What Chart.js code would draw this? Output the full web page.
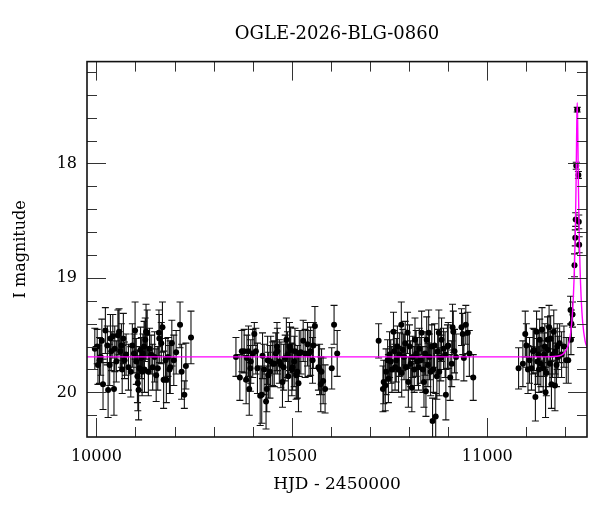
<!DOCTYPE html>
<html>
<head>
<meta charset="utf-8">
<title>OGLE-2026-BLG-0860</title>
<script src="https://cdn.jsdelivr.net/npm/chart.js@4.4.1/dist/chart.umd.min.js"></script>
<style>
  html, body { margin: 0; padding: 0; background: #fff; }
  #wrap { width: 600px; height: 512px; }
</style>
</head>
<body>
<div id="wrap"><canvas id="lc" width="600" height="512"></canvas></div>
<script>
// light curve values
var season1Hjd = [9996, 10002, 10004, 10008, 10011, 10014, 10017, 10023, 10028, 10030,
    10034, 10036, 10038, 10042, 10045, 10047, 10051, 10055, 10058, 10061,
    10064, 10066, 10069, 10072, 10076, 10082, 10088, 10092, 10096, 10099,
    10102, 10105, 10106, 10108, 10110, 10113, 10115, 10117, 10119, 10122,
    10123, 10125, 10127, 10130, 10133, 10136, 10140, 10144, 10149, 10153,
    10157, 10160, 10161, 10166, 10169, 10172, 10177, 10179, 10183, 10187,
    10189, 10193, 10198, 10204, 10214, 10218, 10225, 10229, 10242];
var season1Mag = [19.62, 19.60, 19.76, 19.72, 19.69, 19.55, 19.93, 19.46, 19.59, 19.98,
    19.76, 19.53, 19.64, 19.51, 19.97, 19.62, 19.73, 19.50, 19.47, 19.64,
    19.59, 19.80, 19.53, 19.72, 19.67, 19.78, 19.82, 19.59, 19.66, 19.46,
    19.73, 19.86, 19.92, 19.98, 19.79, 19.63, 19.70, 19.82, 19.66, 19.60,
    19.80, 19.54, 19.47, 19.48, 19.82, 19.62, 19.67, 19.78, 19.69, 19.85,
    19.79, 19.48, 19.53, 19.57, 19.43, 19.89, 19.72, 19.89, 19.69, 19.80,
    19.78, 19.57, 19.72, 19.65, 19.41, 19.82, 20.02, 19.77, 19.52];
var season1Err = [0.18, 0.15, 0.17, 0.20, 0.16, 0.19, 0.22, 0.20, 0.17, 0.24,
    0.18, 0.21, 0.17, 0.19, 0.23, 0.20, 0.18, 0.22, 0.20, 0.17,
    0.19, 0.21, 0.22, 0.16, 0.18, 0.20, 0.22, 0.19, 0.17, 0.25,
    0.20, 0.23, 0.24, 0.26, 0.19, 0.20, 0.18, 0.21, 0.17, 0.22,
    0.20, 0.19, 0.24, 0.20, 0.21, 0.18, 0.17, 0.20, 0.22, 0.23,
    0.19, 0.20, 0.21, 0.18, 0.22, 0.25, 0.19, 0.20, 0.17, 0.21,
    0.23, 0.20, 0.22, 0.19, 0.20, 0.24, 0.12, 0.20, 0.23];

var season2Hjd = [10357, 10367, 10372, 10378, 10383, 10385, 10389, 10391, 10394, 10395,
    10400, 10404, 10408, 10412, 10419, 10423, 10425, 10429, 10434, 10436,
    10438, 10440, 10444, 10446, 10451, 10455, 10459, 10462, 10463, 10468,
    10472, 10476, 10479, 10483, 10486, 10489, 10491, 10494, 10497, 10500,
    10502, 10506, 10508, 10511, 10514, 10517, 10519, 10523, 10529, 10534,
    10540, 10544, 10548, 10553, 10555, 10559, 10568, 10571, 10574, 10576,
    10580, 10585, 10602, 10608, 10616];
var season2Mag = [19.69, 19.87, 19.64, 19.64, 19.89, 19.70, 19.64, 19.97, 19.79, 19.73,
    19.66, 19.49, 19.64, 19.79, 20.03, 20.02, 19.68, 19.80, 20.08, 19.97,
    19.72, 19.85, 19.82, 19.73, 19.75, 19.75, 19.66, 19.60, 19.64, 19.73,
    19.76, 19.91, 19.78, 19.70, 19.54, 19.67, 19.86, 19.60, 19.63, 19.80,
    19.78, 19.73, 19.64, 19.85, 19.82, 19.92, 19.66, 19.65, 19.55, 19.66,
    19.58, 19.66, 19.64, 19.72, 19.59, 19.42, 19.78, 19.80, 19.93, 19.82,
    19.90, 19.97, 19.79, 19.41, 19.66];
var season2Err = [0.17, 0.20, 0.18, 0.19, 0.21, 0.20, 0.22, 0.23, 0.20, 0.19,
    0.21, 0.10, 0.20, 0.22, 0.26, 0.25, 0.20, 0.22, 0.24, 0.20,
    0.21, 0.20, 0.23, 0.22, 0.19, 0.20, 0.18, 0.21, 0.20, 0.19,
    0.20, 0.22, 0.20, 0.20, 0.19, 0.20, 0.22, 0.21, 0.20, 0.23,
    0.20, 0.22, 0.20, 0.21, 0.23, 0.25, 0.20, 0.19, 0.18, 0.21,
    0.19, 0.20, 0.21, 0.20, 0.20, 0.17, 0.20, 0.22, 0.24, 0.20,
    0.20, 0.21, 0.18, 0.17, 0.20];

var season3Hjd = [10722, 10733, 10735, 10739, 10741, 10745, 10747, 10750, 10753, 10756,
    10760, 10762, 10764, 10767, 10770, 10773, 10775, 10780, 10781, 10784,
    10787, 10790, 10792, 10796, 10798, 10801, 10804, 10807, 10809, 10813,
    10815, 10818, 10821, 10824, 10826, 10830, 10832, 10835, 10838, 10841,
    10843, 10845, 10848, 10850, 10852, 10855, 10858, 10860, 10862, 10865,
    10868, 10871, 10873, 10876, 10877, 10881, 10883, 10888, 10892, 10894,
    10898, 10900, 10905, 10909, 10911, 10913, 10916, 10920, 10934, 10937,
    10940, 10945, 10950, 10954, 10964];
var season3Mag = [19.55, 19.97, 19.91, 19.94, 19.82, 19.72, 19.88, 19.67, 19.73, 19.80,
    19.47, 19.64, 19.78, 19.72, 19.60, 19.80, 19.67, 19.41, 19.83, 19.63,
    19.69, 19.57, 19.78, 19.48, 19.91, 19.60, 19.75, 19.96, 19.69, 19.80,
    19.54, 19.66, 19.73, 19.78, 19.62, 19.72, 19.48, 19.80, 19.91, 19.66,
    19.99, 19.54, 19.76, 19.48, 19.69, 19.82, 19.60, 20.25, 19.80, 19.59,
    20.21, 19.86, 19.64, 19.48, 19.82, 19.70, 19.54, 19.62, 19.67, 20.02,
    19.60, 19.59, 19.87, 19.75, 19.43, 19.47, 19.64, 19.69, 19.43, 19.49,
    19.70, 19.41, 19.48, 19.66, 19.87];
var season3Err = [0.15, 0.20, 0.19, 0.22, 0.20, 0.18, 0.21, 0.20, 0.19, 0.20,
    0.17, 0.18, 0.20, 0.19, 0.18, 0.20, 0.19, 0.20, 0.21, 0.18,
    0.20, 0.19, 0.20, 0.18, 0.22, 0.19, 0.20, 0.21, 0.18, 0.20,
    0.19, 0.20, 0.21, 0.20, 0.18, 0.20, 0.19, 0.20, 0.22, 0.19,
    0.22, 0.20, 0.19, 0.20, 0.20, 0.21, 0.19, 0.20, 0.20, 0.19,
    0.20, 0.20, 0.19, 0.20, 0.21, 0.20, 0.19, 0.18, 0.20, 0.22,
    0.19, 0.20, 0.20, 0.20, 0.20, 0.18, 0.19, 0.20, 0.16, 0.18,
    0.20, 0.17, 0.18, 0.20, 0.20];

var season4Hjd = [11080, 11091, 11097, 11100, 11104, 11108, 11113, 11117, 11120, 11123,
    11126, 11128, 11130, 11132, 11134, 11137, 11140, 11143, 11145, 11147,
    11149, 11151, 11154, 11155, 11158, 11160, 11162, 11164, 11167, 11170,
    11173, 11174, 11177, 11179, 11181, 11185, 11190, 11196, 11202, 11207,
    11213, 11214, 11215, 11218, 11223, 11225, 11226, 11227.5, 11230, 11233,
    11234, 11235];
var season4Mag = [19.79, 19.75, 19.49, 19.59, 19.80, 19.72, 19.79, 19.64, 19.63, 20.04,
    19.47, 19.73, 19.67, 19.80, 19.54, 19.75, 19.45, 19.79, 19.67, 19.60,
    20.00, 19.83, 19.54, 19.63, 19.43, 19.75, 19.53, 19.93, 19.67, 19.47,
    19.94, 19.64, 19.76, 19.60, 19.69, 19.57, 19.67, 19.60, 19.72, 19.72,
    19.28, 19.54, 19.40, 19.32, 18.89, 18.65, 18.49, 18.02, 17.53, 18.10,
    18.51, 18.71];
var season4Err = [0.18, 0.20, 0.20, 0.19, 0.21, 0.20, 0.19, 0.20, 0.18, 0.21,
    0.18, 0.20, 0.19, 0.20, 0.18, 0.20, 0.19, 0.20, 0.19, 0.20,
    0.22, 0.20, 0.20, 0.21, 0.19, 0.20, 0.20, 0.21, 0.20, 0.19,
    0.22, 0.20, 0.19, 0.20, 0.18, 0.17, 0.20, 0.18, 0.20, 0.20,
    0.12, 0.13, 0.12, 0.11, 0.10, 0.07, 0.06, 0.03, 0.02, 0.03,
    0.06, 0.07];

// magenta model curve
var modelHjd = [9976, 11150, 11185, 11200, 11210, 11216, 11220, 11223, 11225, 11226,
    11227, 11228, 11229, 11230, 11231, 11232, 11233, 11234, 11235, 11237,
    11240, 11244, 11250, 11256];
var modelMag = [19.69, 19.69, 19.68, 19.64, 19.55, 19.39, 19.17, 18.89, 18.60, 18.41,
    18.18, 17.90, 17.61, 17.47, 17.61, 17.90, 18.18, 18.41, 18.60, 18.89,
    19.17, 19.39, 19.55, 19.61];

var xTicks = [10000, 10500, 11000];
var yTicks = [18, 19, 20];
var xMinorStep = 100;
var yMinorStep = 0.2;

var serif = "'DejaVu Serif', 'Liberation Serif', serif";


// join the seasons into {x, y, err} points
function buildPoints() {
    var seasons = [
        [season1Hjd, season1Mag, season1Err],
        [season2Hjd, season2Mag, season2Err],
        [season3Hjd, season3Mag, season3Err],
        [season4Hjd, season4Mag, season4Err]
    ];
    var pts = [];
    seasons.forEach(function (s) {
        var n = Math.min(s[0].length, s[1].length, s[2].length);
        for (var i = 0; i < n; i++) {
            pts.push({ x: s[0][i], y: s[1][i], err: s[2][i] });
        }
    });
    return pts;
}

var modelPoints = modelHjd.map(function (t, i) {
    return { x: t, y: modelMag[i] };
});


// error bars under the points
var errorBars = {
    id: "errorBars",
    beforeDatasetsDraw: function (chart) {
        var ctx = chart.ctx;
        var xs = chart.scales.x, ys = chart.scales.y;
        var area = chart.chartArea;
        ctx.save();
        ctx.beginPath();
        ctx.rect(area.left, area.top, area.right - area.left, area.bottom - area.top);
        ctx.clip();
        ctx.strokeStyle = "#111";
        ctx.lineWidth = 1.1;
        ctx.beginPath();
        chart.data.datasets[0].data.forEach(function (p) {
            var x = xs.getPixelForValue(p.x);
            var yTop = ys.getPixelForValue(p.y - p.err);
            var yBot = ys.getPixelForValue(p.y + p.err);
            ctx.moveTo(x, yTop);
            ctx.lineTo(x, yBot);
            ctx.moveTo(x - 3.5, yTop);
            ctx.lineTo(x + 3.5, yTop);
            ctx.moveTo(x - 3.5, yBot);
            ctx.lineTo(x + 3.5, yBot);
        });
        ctx.stroke();
        ctx.restore();
    }
};

// box frame with inward ticks on all four sides
var frameTicks = {
    id: "frameTicks",
    afterDraw: function (chart) {
        var ctx = chart.ctx;
        var xs = chart.scales.x, ys = chart.scales.y;
        var a = chart.chartArea;
        ctx.save();
        ctx.strokeStyle = "#333";
        ctx.lineWidth = 1;
        ctx.beginPath();

        var start = Math.ceil(xs.min / xMinorStep) * xMinorStep;
        for (var v = start; v <= xs.max; v += xMinorStep) {
            var x = Math.round(xs.getPixelForValue(v)) + 0.5;
            var len = (v % 500 === 0) ? 19 : 10;
            ctx.moveTo(x, a.bottom);
            ctx.lineTo(x, a.bottom - len);
            ctx.moveTo(x, a.top);
            ctx.lineTo(x, a.top + len);
        }

        var k0 = Math.ceil(ys.min / yMinorStep - 1e-6);
        for (var k = k0; k * yMinorStep <= ys.max + 1e-6; k++) {
            var m = k * yMinorStep;
            var y = Math.round(ys.getPixelForValue(m)) + 0.5;
            var major = Math.abs(m - Math.round(m)) < 1e-6;
            var l = major ? 19 : 10;
            ctx.moveTo(a.left, y);
            ctx.lineTo(a.left + l, y);
            ctx.moveTo(a.right, y);
            ctx.lineTo(a.right - l, y);
        }
        ctx.stroke();

        ctx.strokeStyle = "#111";
        ctx.lineWidth = 1.6;
        ctx.strokeRect(a.left, a.top, a.right - a.left, a.bottom - a.top);
        ctx.restore();
    }
};

document.addEventListener("DOMContentLoaded", function () {
    var ctx = document.getElementById("lc").getContext("2d");
    new Chart(ctx, {
        type: "scatter",
        data: {
            datasets: [
                {
                    label: "OGLE I",
                    data: buildPoints(),
                    backgroundColor: "#000",
                    borderWidth: 0,
                    pointRadius: 3,
                    order: 1
                },
                {
                    label: "model",
                    data: modelPoints,
                    showLine: true,
                    borderColor: "#ff00ff",
                    borderWidth: 1.4,
                    pointRadius: 0,
                    cubicInterpolationMode: "monotone",
                    order: 0
                }
            ]
        },
        options: {
            responsive: false,
            animation: false,
            layout: { padding: { left: 0, right: 13, top: 0, bottom: 0 } },
            scales: {
                x: {
                    type: "linear",
                    position: "bottom",
                    min: 9976,
                    max: 11255,
                    grid: { display: false, drawTicks: false },
                    border: { display: false },
                    afterBuildTicks: function (scale) {
                        scale.ticks = xTicks.map(function (v) { return { value: v }; });
                    },
                    afterFit: function (scale) { scale.height = 75; },
                    ticks: {
                        color: "#000",
                        padding: 10,
                        maxRotation: 0,
                        font: { family: serif, size: 16 },
                        callback: function (v) { return String(v); }
                    },
                    title: {
                        display: true,
                        text: "HJD - 2450000",
                        color: "#000",
                        font: { family: serif, size: 17 },
                        padding: { top: 4, bottom: 17 }
                    }
                },
                y: {
                    type: "linear",
                    reverse: true,
                    min: 17.11,
                    max: 20.39,
                    grid: { display: false, drawTicks: false },
                    border: { display: false },
                    afterBuildTicks: function (scale) {
                        scale.ticks = yTicks.map(function (v) { return { value: v }; });
                    },
                    afterFit: function (scale) { scale.width = 87; },
                    ticks: {
                        color: "#000",
                        padding: 10,
                        font: { family: serif, size: 16 },
                        callback: function (v) { return String(v); }
                    },
                    title: {
                        display: true,
                        text: "I magnitude",
                        color: "#000",
                        font: { family: serif, size: 16 },
                        padding: { top: 11, bottom: 0 }
                    }
                }
            },
            plugins: {
                legend: { display: false },
                tooltip: { enabled: false },
                title: {
                    display: true,
                    fullSize: false,
                    text: "OGLE-2026-BLG-0860",
                    color: "#000",
                    font: { family: serif, size: 18, weight: "normal" },
                    padding: { top: 24, bottom: 16 }
                }
            }
        },
        plugins: [errorBars, frameTicks]
    });
});
</script>
</body>
</html>
